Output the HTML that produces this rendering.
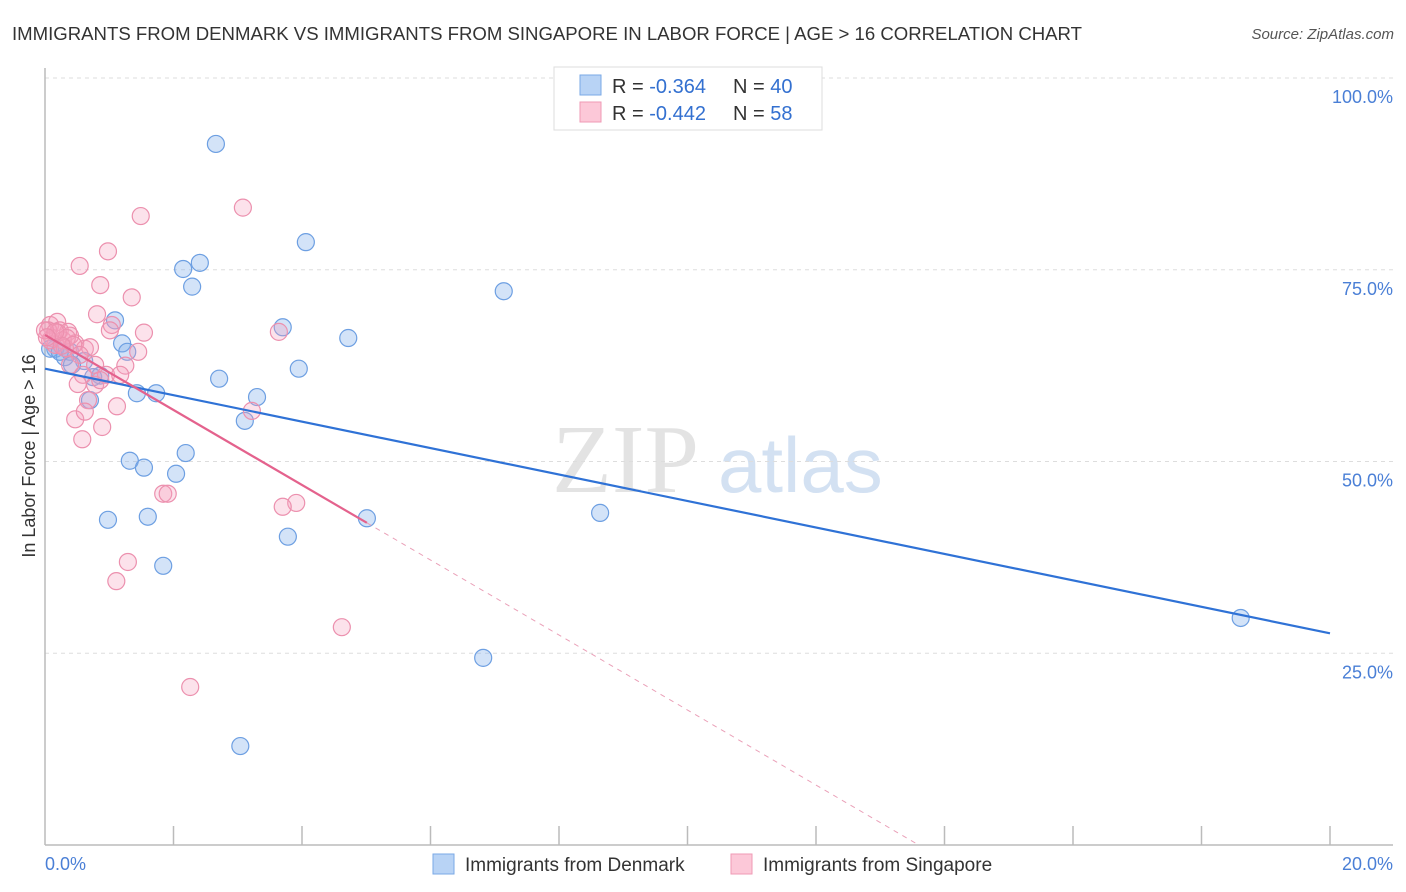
<!DOCTYPE html>
<html><head><meta charset="utf-8"><style>
body{margin:0;background:#fff;font-family:"Liberation Sans",sans-serif;}
svg{display:block}
</style></head><body>
<svg id="chart" width="1406" height="892">
<text x="12" y="40" font-size="18.6" fill="#333" textLength="1070">IMMIGRANTS FROM DENMARK VS IMMIGRANTS FROM SINGAPORE IN LABOR FORCE | AGE &gt; 16 CORRELATION CHART</text>
<text x="1394" y="39" font-size="15" font-style="italic" fill="#555" text-anchor="end">Source: ZipAtlas.com</text>
<g>
<text x="552" y="492" font-size="98" font-family="Liberation Serif,serif" fill="#ddd" opacity="0.8">ZIP</text>
<text x="718" y="492" font-size="78" fill="#c9daf0" opacity="0.8">atlas</text>
</g>
<g id="grid"></g>
<g id="axes"></g>
<g id="marks"></g>
<text x="35" y="456" font-size="18" fill="#333" text-anchor="middle" transform="rotate(-90 35 456)">In Labor Force | Age &gt; 16</text>
<g>
<rect x="554" y="67" width="268" height="63" fill="#fff" stroke="#ddd"/>
<rect x="580" y="75" width="21" height="20" fill="#b8d3f5" stroke="#7aa8e6"/>
<rect x="580" y="102" width="21" height="20" fill="#fcc8d8" stroke="#ef9ab5"/>
<text x="612" y="93" font-size="20" fill="#333">R = <tspan fill="#3370d0">-0.364</tspan><tspan x="733">N = </tspan><tspan fill="#3370d0">40</tspan></text>
<text x="612" y="120" font-size="20" fill="#333">R = <tspan fill="#3370d0">-0.442</tspan><tspan x="733">N = </tspan><tspan fill="#3370d0"> 58</tspan></text>
</g>
<g>
<rect x="433" y="854" width="21" height="20" fill="#b8d3f5" stroke="#7aa8e6"/>
<text x="465" y="871" font-size="19" fill="#333">Immigrants from Denmark</text>
<rect x="731" y="854" width="21" height="20" fill="#fcc8d8" stroke="#ef9ab5"/>
<text x="763" y="871" font-size="19" fill="#333">Immigrants from Singapore</text>
</g>
</svg>
<script>
const yTicks=[25,50,75,100];
const yTickLabels=["25.0%","50.0%","75.0%","100.0%"];
const xTickCount=10;
const xLabels=["0.0%","20.0%"];
const blueX=[2.66,4.06,2.15,2.41,2.29,7.14,1.09,3.70,4.72,1.20,1.28,0.16,0.39,0.31,0.61,3.95,2.71,0.86,1.43,1.73,3.30,3.11,1.32,1.54,2.19,2.04,5.01,1.60,0.98,3.78,8.64,1.84,6.82,3.04,18.61,0.70,0.08,0.42,0.75,0.23];
const blueY=[91.4,78.6,75.1,75.9,72.8,72.2,68.4,67.5,66.1,65.4,64.3,64.7,64.3,63.6,63.1,62.1,60.8,61.2,58.9,58.9,58.4,55.3,50.1,49.2,51.1,48.4,42.6,42.8,42.4,40.2,43.3,36.4,24.4,12.9,29.6,58.0,64.7,62.6,61.0,64.3];
const pinkX=[1.49,3.08,0.98,0.54,0.86,1.35,0.81,1.04,1.54,3.64,0.08,0.19,0.23,0.36,0.11,0.05,0.16,0.28,0.47,0.62,1.45,0.39,0.78,1.25,0.59,0.95,0.78,0.51,0.67,1.12,3.22,0.47,0.89,0.58,1.84,1.91,3.91,3.70,1.29,1.11,4.62,2.26,0.31,0.08,0.20,0.00,0.34,0.70,1.17,0.86,0.62,0.44,0.26,1.01,0.54,0.16,0.03,0.39];
const pinkY=[82.0,83.1,77.4,75.5,73.0,71.4,69.2,67.8,66.8,66.9,67.8,68.2,67.1,66.9,66.1,67.1,65.2,65.8,65.4,64.7,64.3,66.4,62.6,62.5,61.3,61.3,60.0,60.1,58.0,57.2,56.6,55.5,54.5,52.9,45.8,45.8,44.6,44.1,36.9,34.4,28.4,20.6,64.8,65.8,66.8,67.1,66.1,64.9,61.3,60.6,56.5,65.2,65.1,67.1,63.9,66.9,66.2,62.6];
const blueTrend=[62.1,27.6];
const pinkTrend=[66.5,42.0];
const pinkSolidEnd=5.01;

const X0=45,X1=1330,Y0=845,Y100=78;
const sx=v=>X0+(X1-X0)*v/20;
const sy=v=>Y0-(Y0-Y100)*v/100;
const NS="http://www.w3.org/2000/svg";
function mk(tag,attrs,parent){const e=document.createElementNS(NS,tag);for(const k in attrs)e.setAttribute(k,attrs[k]);document.getElementById(parent).appendChild(e);return e;}
yTicks.forEach((t,i)=>{
  const g=mk('line',{x1:X0,x2:1393,y1:sy(t),y2:sy(t),stroke:'#ddd','stroke-dasharray':'4,4'},'grid');
  
  
  const l=mk('text',{x:1393,y:sy(t)+25,'font-size':18,fill:'#4a7fd6','text-anchor':'end'},'grid');
  l.textContent=yTickLabels[i];
  
  
});
const ya=mk('line',{x1:X0,x2:X0,y1:68,y2:Y0,stroke:'#bbb','stroke-width':1.5},'axes');


const xa=mk('line',{x1:X0,x2:1393,y1:Y0,y2:Y0,stroke:'#bbb','stroke-width':1.5},'axes');


for(let i=1;i<=xTickCount;i++){
  const v=20*i/xTickCount;
  const t=mk('line',{x1:sx(v),x2:sx(v),y1:826,y2:Y0,stroke:'#bbb','stroke-width':1.5},'axes');
  
  
}
[[0,'start',X0],[20,'end',1393]].forEach((a,i)=>{
  const l=mk('text',{x:a[2],y:870,'font-size':18,fill:'#4a7fd6','text-anchor':a[1]},'axes');
  l.textContent=xLabels[i];
  
  
});
blueX.forEach((v,i)=>{
  const c=mk('circle',{cx:sx(v),cy:sy(blueY[i]),r:8.5,fill:'rgba(130,175,235,0.35)',stroke:'#6d9fe2','stroke-width':1.2},'marks');
  
  
});
pinkX.forEach((v,i)=>{
  const c=mk('circle',{cx:sx(v),cy:sy(pinkY[i]),r:8.5,fill:'rgba(245,160,190,0.3)',stroke:'#ec90ae','stroke-width':1.2},'marks');
  
  
});
const bt=mk('line',{x1:sx(0),y1:sy(blueTrend[0]),x2:sx(20),y2:sy(blueTrend[1]),stroke:'#2f72d6','stroke-width':2.2},'marks');


const slope=(pinkTrend[1]-pinkTrend[0])/pinkSolidEnd;
const zeroX=-pinkTrend[0]/slope;
const pt=mk('line',{x1:sx(0),y1:sy(pinkTrend[0]),x2:sx(pinkSolidEnd),y2:sy(pinkTrend[1]),stroke:'#e4628d','stroke-width':2.2},'marks');


const pd=mk('line',{x1:sx(pinkSolidEnd),y1:sy(pinkTrend[1]),x2:sx(zeroX),y2:sy(0),stroke:'#eaa0b8','stroke-width':1,'stroke-dasharray':'5,5'},'marks');


</script>
</body></html>
